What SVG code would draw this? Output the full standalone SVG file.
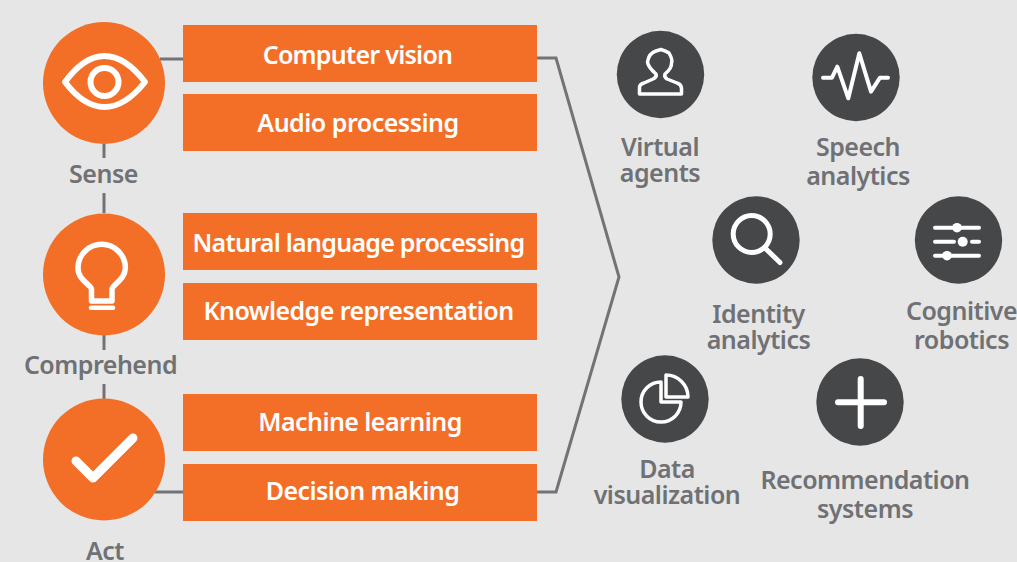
<svg xmlns="http://www.w3.org/2000/svg" width="1017" height="562" viewBox="0 0 1017 562">
<style>
.bg{fill:#e6e6e6}
.o{fill:#f36f27}
.d{fill:#464749}
.c{fill:none;stroke:#717376;stroke-width:3}
.bt{font-family:"Noto Sans","Liberation Sans",sans-serif;font-weight:600;font-size:25px;fill:#fff;text-anchor:middle;letter-spacing:-.73px}
.lb{font-family:"Noto Sans","Liberation Sans",sans-serif;font-weight:600;font-size:25px;fill:#6f7174;text-anchor:middle;letter-spacing:-.5px}
.iw{fill:none;stroke:#fff;stroke-width:6;stroke-linecap:round;stroke-linejoin:round}
.ig{fill:none;stroke:#fff;stroke-width:4;stroke-linecap:round;stroke-linejoin:round}
</style>
<rect class="bg" width="1017" height="562"/>
<g id="connectors">
<path class="c" d="M160 59H183"/>
<path class="c" d="M155 492H183"/>
<path class="c" d="M104 144V158M104 193V213M104 335V350M104 384V399"/>
<path class="c" d="M537 58H556L619 277L556 492H537"/>
</g>
<g id="sense"><circle class="o" cx="104" cy="83" r="61"/>
<path class="iw" d="M65 82Q84 56 104.500 56Q125 56 145 82Q125 107 104.500 107Q84 107 65 82Z"/><circle class="iw" cx="104.500" cy="82" r="14"/>
<text class="lb" x="103.500" y="183">Sense</text></g>
<g id="comprehend"><circle class="o" cx="104" cy="274.500" r="61"/>
<path class="iw" style="stroke-width:5.500" d="M91.500 301V289C90 284 78 280 78 268A23.700 23.700 0 1 1 125.400 268C125 280 113 284 112 289V301H91.500Z"/><path class="iw" style="stroke-width:4.500" d="M91 307.800H113"/>
<text class="lb" x="100.500" y="374">Comprehend</text></g>
<g id="act"><circle class="o" cx="104" cy="459.500" r="61"/>
<path class="iw" style="stroke-width:9" d="M76 461L93 478L133 438"/>
<text class="lb" x="105" y="560">Act</text></g>
<g id="computer-vision"><rect class="o" x="183" y="25" width="354" height="57"/><text class="bt" x="357.500" y="64">Computer vision</text></g>
<g id="audio-processing"><rect class="o" x="183" y="94" width="354" height="57"/><text class="bt" x="358" y="132" style="letter-spacing:-.5px">Audio processing</text></g>
<g id="nlp"><rect class="o" x="183" y="213" width="354" height="57"/><text class="bt" x="358.500" y="252">Natural language processing</text></g>
<g id="knowledge"><rect class="o" x="183" y="283" width="354" height="57"/><text class="bt" x="358.500" y="320" style="letter-spacing:-.57px">Knowledge representation</text></g>
<g id="ml"><rect class="o" x="183" y="394" width="354" height="57"/><text class="bt" x="360" y="431" style="letter-spacing:-.55px">Machine learning</text></g>
<g id="decision"><rect class="o" x="183" y="464" width="354" height="57"/><text class="bt" x="362.500" y="500" style="letter-spacing:-.55px">Decision making</text></g>
<g id="virtual-agents"><circle class="d" cx="660.500" cy="74.500" r="43.700"/>
<path class="ig" style="stroke-width:3.500" d="M639.500 94V87Q640 84 644 83L653 79Q657 77 656 74Q648 67 647.500 62Q649 53 656 51L661 49.500Q666 51 669 53Q673 60 671.500 63Q672 68 665 74Q664 77 667 79L677 83Q681 84 681.500 88V94Z"/>
<text class="lb"><tspan x="660" y="156">Virtual</tspan><tspan x="660" y="182">agents</tspan></text></g>
<g id="speech-analytics"><circle class="d" cx="856" cy="77.500" r="43.700"/>
<path class="ig" d="M823 77.700H832L837.300 66.700L848.300 98.300L859.300 53.300L871 91.700L880 77.700H888"/>
<text class="lb"><tspan x="858" y="156">Speech</tspan><tspan x="858" y="185">analytics</tspan></text></g>
<g id="identity-analytics"><circle class="d" cx="756" cy="240" r="43.700"/>
<circle class="ig" style="stroke-width:5" cx="751.700" cy="234" r="18.500"/><path class="ig" style="stroke-width:5" d="M765 248L780 262.500"/>
<text class="lb"><tspan x="758.500" y="323">Identity</tspan><tspan x="758.500" y="349">analytics</tspan></text></g>
<g id="cognitive-robotics"><circle class="d" cx="958.500" cy="240" r="43.700"/>
<path class="ig" d="M935 227.700H979M935 241.700H954M972 241.700H979M935 255.700H979"/><circle cx="957" cy="227.700" r="4.800" fill="#fff"/><circle cx="962.700" cy="241.700" r="5" fill="#fff"/><circle cx="947" cy="255.700" r="4.800" fill="#fff"/>
<text class="lb"><tspan x="961.500" y="320">Cognitive</tspan><tspan x="961.500" y="349">robotics</tspan></text></g>
<g id="data-visualization"><circle class="d" cx="665" cy="399" r="43.700"/>
<path class="ig" style="stroke-width:3.500" d="M661 382A20 20 0 1 0 681 402H661Z"/><path class="ig" style="stroke-width:3.500" d="M666 375A22 22 0 0 1 688 397H666Z"/>
<text class="lb"><tspan x="667" y="478">Data</tspan><tspan x="667" y="504">visualization</tspan></text></g>
<g id="recommendation"><circle class="d" cx="860" cy="402" r="43.700"/>
<path class="ig" style="stroke-width:6" d="M860.700 379V426M838 402.300H884"/>
<text class="lb"><tspan x="865" y="489">Recommendation</tspan><tspan x="865" y="518">systems</tspan></text></g>
</svg>
